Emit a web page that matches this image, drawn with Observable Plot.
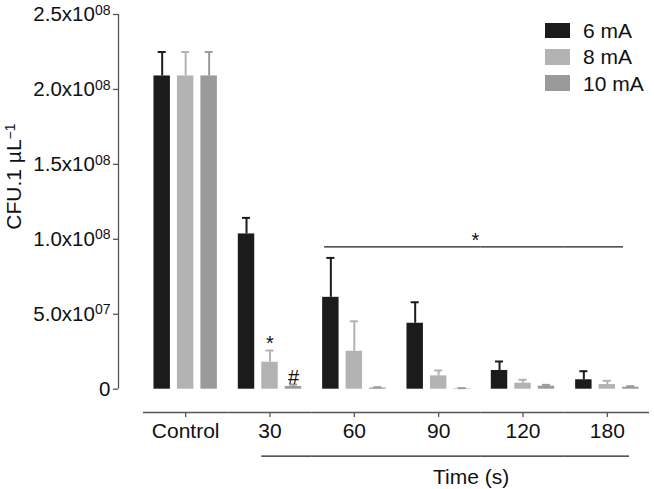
<!DOCTYPE html>
<html><head><meta charset="utf-8">
<script src="https://cdn.jsdelivr.net/npm/d3@7"></script>
<script src="https://cdn.jsdelivr.net/npm/@observablehq/plot@0.6"></script>
<style>
body{margin:0;background:#fff;}
#wrap{position:relative;width:654px;height:489px;font-family:"Liberation Sans",Arial,sans-serif;}
#legend{position:absolute;left:545px;top:17.5px;}
.row{display:flex;align-items:center;height:26.3px;}
.sw{width:25px;height:15.6px;margin-right:13px;}
.lab{font-size:21px;line-height:1;color:#111;}
</style></head><body><div id="wrap"><div id="legend"></div></div>
<script>
const groups = ["Control", "30", "60", "90", "120", "180"];
const series = ["6 mA", "8 mA", "10 mA"];
const mean6  = [2.09e8, 1.036e8, 6.13e7, 4.4e7, 1.25e7, 6.3e6];
const err6   = [1.6e7, 1.07e7, 2.63e7, 1.4e7, 6.0e6, 5.7e6];
const mean8  = [2.09e8, 1.8e7, 2.53e7, 8.9e6, 4.0e6, 3.1e6];
const err8   = [1.6e7, 7.8e6, 2.0e7, 3.6e6, 2.3e6, 2.5e6];
const mean10 = [2.09e8, 1.8e6, 8e5, 3e5, 2.0e6, 1.3e6];
const err10  = [1.6e7, 1.3e6, 5e5, 4e5, 9e5, 7e5];
const colors = ["#1b1b1b", "#b3b3b3", "#9a9a9a"];
const yTicks = [0, 5e7, 1e8, 1.5e8, 2e8, 2.5e8];
const yTickLabels = ["0", "5.0x10^07", "1.0x10^08", "1.5x10^08", "2.0x10^08", "2.5x10^08"];
const yLabel = "CFU.1 µL^−1";
const xLabel = "Time (s)";
const annotations = [{group: "30", series: "8 mA", text: "*"}, {group: "30", series: "10 mA", text: "#"}];
const sigBracket = {from: ["60", "6 mA"], to: ["180", "8 mA"], level: 9.5e7, text: "*"};
const timeBracket = {from: ["30", "8 mA"], to: ["180", "10 mA"]};

// layout constants
const W = 654, H = 489, mL = 143, mR = 5, mT = 14, mB = 100.3;
const xPadInner = 0.3, xPadOuter = 0.446;
const axisGapX = 25;   // y axis sits left of the first facet
const axisDrop = 23.3; // x axis sits below the zero line
const facetW = (W - mL - mR) / groups.length;
const xStep = facetW / (series.length - xPadInner + 2 * xPadOuter);
const outerGap = xPadOuter * xStep;
const xBand = (1 - xPadInner) * xStep;

const means = [mean6, mean8, mean10], errs = [err6, err8, err10];
const table = groups.flatMap((g, i) => series.map((s, j) => ({group: g, series: s, value: means[j][i], err: errs[j][i]})));
const topOf = (g, s) => { const r = table.find(d => d.group === g && d.series === s); return r.value + r.err; };
function pieces(b) {
  const i0 = groups.indexOf(b.from[0]), i1 = groups.indexOf(b.to[0]);
  return groups.slice(i0, i1 + 1).map((g, k, a) => ({
    group: g, kind: k === 0 ? "start" : k === a.length - 1 ? "end" : "mid",
    x1: k === 0 ? b.from[1] : series[0],
    x2: k === a.length - 1 ? b.to[1] : series[series.length - 1]
  }));
}
const sig = pieces(sigBracket), tim = pieces(timeBracket);
const pick = (a, k) => a.filter(d => d.kind === k);
const sigMid = groups[Math.floor((groups.indexOf(sigBracket.from[0]) + groups.indexOf(sigBracket.to[0])) / 2)];
const lineStyle = {stroke: "#1e1e1e", strokeWidth: 1.3};
const axisColor = "#555";
const midSeries = series[Math.floor(series.length / 2)];

function bracket(p, y, dy, endInset, startInset) {
  return [
    Plot.ruleY(pick(p, "start"), {fx: "group", x1: "x1", x2: "x2", y: () => y, dy, insetLeft: startInset, insetRight: -outerGap, ...lineStyle}),
    Plot.ruleY(pick(p, "mid"), {fx: "group", y: () => y, dy, ...lineStyle}),
    Plot.ruleY(pick(p, "end"), {fx: "group", x1: "x1", x2: "x2", y: () => y, dy, insetLeft: -outerGap, insetRight: endInset, ...lineStyle})
  ];
}

const chart = Plot.plot({
  width: W, height: H,
  marginTop: mT, marginBottom: mB, marginLeft: mL, marginRight: mR,
  style: {fontFamily: '"Liberation Sans", Arial, sans-serif', fontSize: "21px", background: "transparent", color: "#111"},
  fx: {domain: groups, padding: 0, round: false},
  x: {domain: series, paddingInner: xPadInner, paddingOuter: xPadOuter, round: false, axis: null},
  y: {domain: [0, 2.5e8]},
  color: {domain: series, range: colors},
  marks: [
    // y axis line
    Plot.ruleX([groups[0]], {fx: d => d, x: () => series[0], y1: () => yTicks[0], y2: () => yTicks[yTicks.length - 1], dx: -(outerGap + xBand / 2 + axisGapX), stroke: axisColor, strokeWidth: 1.3}),
    Plot.axisY({ticks: yTicks, tickFormat: d => yTickLabels[yTicks.indexOf(d)], tickSize: 5, tickPadding: 3, dx: -axisGapX, stroke: axisColor, strokeWidth: 1.3, fontSize: 20.5, label: null}),
    // x axis: line, ticks at facet centres, labels
    Plot.ruleY([0], {dy: axisDrop, stroke: axisColor, strokeWidth: 1.3}),
    Plot.ruleX(groups, {fx: d => d, x: () => midSeries, y1: () => 0, y2: () => 0, insetBottom: -5, dy: axisDrop, stroke: axisColor, strokeWidth: 1.3}),
    Plot.axisFx({anchor: "bottom", tickSize: 0, tickPadding: 11, dy: axisDrop, fontSize: 21, label: null}),
    Plot.barY(table, {fx: "group", x: "series", y: "value", fill: "series"}),
    Plot.ruleX(table, {fx: "group", x: "series", y1: "value", y2: d => d.value + d.err, stroke: "series", strokeWidth: 2}),
    Plot.tickY(table, {fx: "group", x: "series", y: d => d.value + d.err, stroke: "series", strokeWidth: 2, insetLeft: 4.2, insetRight: 4.2}),
    Plot.text(annotations, {fx: "group", x: "series", y: d => topOf(d.group, d.series), text: "text", dy: -7, fontSize: 20}),
    ...bracket(sig, sigBracket.level, 0, -8, 2),
    Plot.text([sigBracket], {fx: () => sigMid, frameAnchor: "right", textAnchor: "middle", lineAnchor: "middle", y: "level", text: "text", dx: -5.5, dy: -6.6, fontSize: 20}),
    ...bracket(tim, 0, 67, 9.5, 0),
    Plot.text([xLabel], {fx: ["90"], frameAnchor: "bottom-right", textAnchor: "middle", lineAnchor: "middle", dx: -9.7, dy: 87.8, fontSize: 21}),
    Plot.text([yLabel], {fx: ["Control"], frameAnchor: "left", textAnchor: "middle", lineAnchor: "middle", rotate: -90, dx: -129, dy: -25.3, fontSize: 21})
  ]
});

// superscripts: "a^b" -> a<tspan>b</tspan>
chart.querySelectorAll("text").forEach(t => {
  if (t.children.length) return;
  const s = t.textContent, k = s.indexOf("^");
  if (k < 0) return;
  t.textContent = s.slice(0, k);
  const sp = document.createElementNS("http://www.w3.org/2000/svg", "tspan");
  sp.textContent = s.slice(k + 1);
  sp.setAttribute("font-size", "14");
  sp.setAttribute("dy", "-0.46em");
  t.appendChild(sp);
});

const wrap = document.getElementById("wrap");
wrap.insertBefore(chart, wrap.firstChild);
const legend = document.getElementById("legend");
series.forEach((s, i) => {
  const row = document.createElement("div"); row.className = "row";
  const sw = document.createElement("div"); sw.className = "sw"; sw.style.background = colors[i];
  const lab = document.createElement("span"); lab.className = "lab"; lab.textContent = s;
  row.appendChild(sw); row.appendChild(lab); legend.appendChild(row);
});
</script></body></html>
